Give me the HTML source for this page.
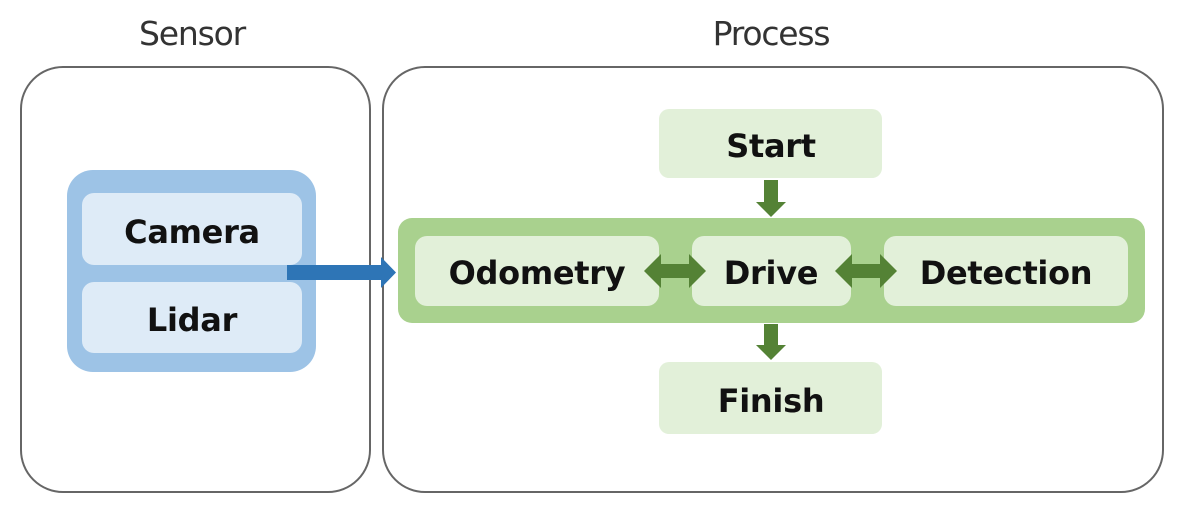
<!DOCTYPE html>
<html><head><meta charset="utf-8"><style>
html,body{margin:0;padding:0;background:#fff;}
svg{display:block;}
text{font-family:"DejaVu Sans","Liberation Sans",sans-serif;}
.t{font-size:33px;fill:#333;letter-spacing:-1.2px}
.b{font-size:32px;font-weight:bold;fill:#111;letter-spacing:-0.3px}
</style></head><body>
<svg width="1187" height="509" viewBox="0 0 1187 509" xmlns="http://www.w3.org/2000/svg">
<text class="t" x="192" y="45" text-anchor="middle">Sensor</text>
<text class="t" x="771" y="45" text-anchor="middle">Process</text>
<rect x="21" y="67" width="349" height="425" rx="42" fill="#fff" stroke="#666" stroke-width="2"/>
<rect x="383" y="67" width="780" height="425" rx="42" fill="#fff" stroke="#666" stroke-width="2"/>
<rect x="67" y="170" width="249" height="202" rx="26" fill="#9dc3e6"/>
<rect x="82" y="193" width="220" height="72" rx="12" fill="#deebf7"/>
<rect x="82" y="282" width="220" height="71" rx="12" fill="#deebf7"/>
<text class="b" x="192" y="243" text-anchor="middle">Camera</text>
<text class="b" x="192" y="331" text-anchor="middle">Lidar</text>
<polygon points="287,265 381,265 381,257 396,272.5 381,288 381,280 287,280" fill="#2e75b6"/>
<rect x="659" y="109" width="223" height="69" rx="10" fill="#e2f0d9"/>
<text class="b" x="771" y="157" text-anchor="middle">Start</text>
<rect x="398" y="218" width="747" height="105" rx="14" fill="#a9d18e"/>
<rect x="415" y="236" width="244" height="70" rx="12" fill="#e2f0d9"/>
<rect x="692" y="236" width="159" height="70" rx="12" fill="#e2f0d9"/>
<rect x="884" y="236" width="244" height="70" rx="12" fill="#e2f0d9"/>
<text class="b" x="537" y="284" text-anchor="middle">Odometry</text>
<text class="b" x="771" y="284" text-anchor="middle">Drive</text>
<text class="b" x="1006" y="284" text-anchor="middle">Detection</text>
<rect x="659" y="362" width="223" height="72" rx="10" fill="#e2f0d9"/>
<text class="b" x="771" y="412" text-anchor="middle">Finish</text>
<polygon points="764,180 778,180 778,202 786,202 771,217 756,202 764,202" fill="#548235"/>
<polygon points="764,324 778,324 778,345 786,345 771,360 756,345 764,345" fill="#548235"/>
<polygon points="644,271 661,254 661,264 689,264 689,254 706,271 689,288 689,278 661,278 661,288" fill="#548235"/>
<polygon points="835,271 852,254 852,264 880,264 880,254 897,271 880,288 880,278 852,278 852,288" fill="#548235"/>
</svg>
</body></html>
